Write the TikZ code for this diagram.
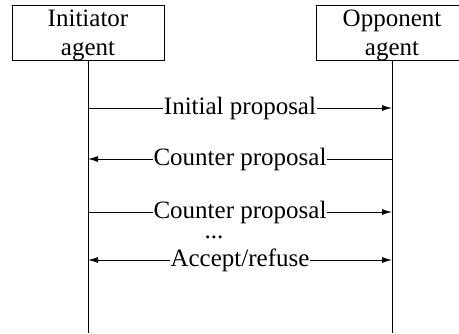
\documentclass[tikz,border=0pt]{standalone}
\usepackage{fontspec}
\setmainfont{Liberation Serif}
\usetikzlibrary{arrows.meta}

\newcommand{\boxstrut}{\rule{0pt}{21pt}}

\begin{document}
\begin{tikzpicture}[x=1pt,y=-1pt,
  agent/.style={draw,line width=1pt,minimum width=152pt,minimum height=51pt,inner sep=0pt,align=center,font=\fontsize{25}{29}\selectfont},
  msg/.style={line width=1pt,-{Latex[length=10pt,width=6pt]}},
  msgboth/.style={line width=1pt,{Latex[length=10pt,width=6pt]}-{Latex[length=10pt,width=6pt]}},
  lbl/.style={fill=white,inner sep=1pt,font=\fontsize{25}{29}\selectfont}]
\useasboundingbox (0,0) rectangle (459,333);
\node[agent] (init) at (88,33) {\boxstrut Initiator\\agent};
\node[agent] (opp) at (392,33) {\boxstrut Opponent\\agent};
\coordinate (initEnd) at (88,333);
\coordinate (oppEnd) at (392,333);
\draw[line width=1pt] (init.south) -- (initEnd);
\draw[line width=1pt] (opp.south) -- (oppEnd);
%messages
\coordinate (i1) at (88,108); \coordinate (o1) at (392,108);
\coordinate (i2) at (88,159); \coordinate (o2) at (392,159);
\coordinate (i3) at (88,212); \coordinate (o3) at (392,212);
\coordinate (i4) at (88,260); \coordinate (o4) at (392,260);
\draw[msg] (i1) -- node[lbl] {Initial proposal} (o1);
\draw[msg] (o2) -- node[lbl] {Counter proposal} (i2);
\draw[msg] (i3) -- node[lbl] {Counter proposal} (o3);
\draw[msgboth] (i4) -- node[lbl] {Accept/refuse} (o4);
\node[font=\fontsize{25}{29}\selectfont,anchor=base,inner sep=0pt] (dots) at (214,238) {...};
\end{tikzpicture}
\end{document}
